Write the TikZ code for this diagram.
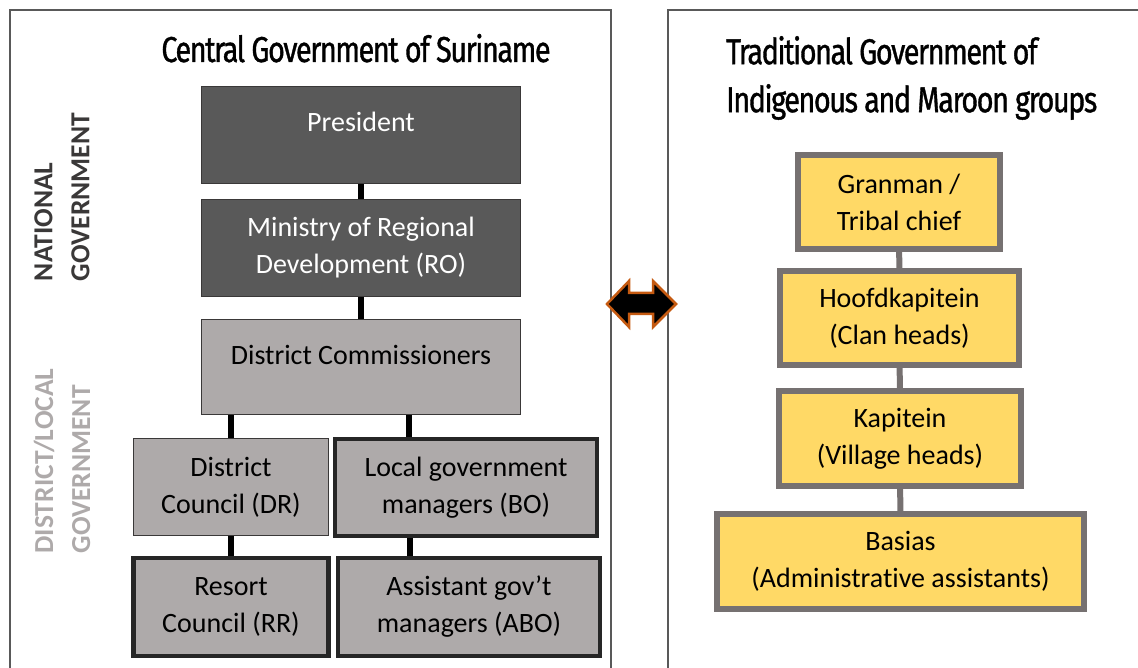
\documentclass[tikz,border=0pt]{standalone}
\usepackage{fontspec}
\setmainfont[Ligatures=NoCommon]{Carlito}
\newfontfamily\headfont[FakeStretch=0.8,LetterSpace=-4,FakeBold=1]{Fira Sans}
\usepackage{tikz}
\usetikzlibrary{arrows,positioning}
\definecolor{natfill}{HTML}{595959}
\definecolor{locfill}{HTML}{AEAAAA}
\definecolor{boxline}{HTML}{3A3838}
\definecolor{heavyline}{HTML}{262626}
\definecolor{tradfill}{HTML}{FFD966}
\definecolor{tradline}{HTML}{767171}
\definecolor{panelline}{HTML}{595959}
\definecolor{linkedge}{HTML}{C55A11}
\tikzset{font=\fontsize{28}{37}\selectfont}
\tikzstyle{natbox}=[draw=boxline,fill=natfill,text=white,line width=1.5pt,inner sep=0pt,align=center]
\tikzstyle{locbox}=[draw=boxline,fill=locfill,line width=1.5pt,inner sep=0pt,align=center]
\tikzstyle{heavybox}=[locbox,draw=heavyline,line width=4.5pt]
\tikzstyle{tradbox}=[draw=tradline,fill=tradfill,line width=6pt,inner sep=0pt,align=center]
\tikzstyle{uptext}=[text height=17pt,text depth=23pt]
\tikzstyle{headtext}=[font=\headfont\fontsize{36}{48}\selectfont,inner sep=0pt]
\tikzstyle{sidetext}=[font=\bfseries\fontsize{27.5}{37}\selectfont,rotate=90,align=left,inner sep=0pt]

\begin{document}
\begin{tikzpicture}[x=1pt,y=-1pt]
\useasboundingbox (0,0) rectangle (1138,668);
% panels
\draw[panelline,line width=2pt] (10,10) rectangle (611,690);
\draw[panelline,line width=2pt] (668,10) rectangle (1150,690);
\node[headtext,anchor=base] (ctitle) at (356,62) {Central Government of Suriname};
\node[headtext,anchor=west,align=left] (ttitle) at (726,78) {Traditional Government of\\Indigenous and Maroon groups};
\node[sidetext,text=boxline] (natl) at (62,197) {NATIONAL\\GOVERNMENT};
\node[sidetext,text=locfill] (distl) at (62,461) {DISTRICT/LOCAL\\GOVERNMENT};
% national and district levels
\node[natbox,uptext,minimum width=319,minimum height=97] (pres) at (361,135) {President};
\node[natbox,minimum width=319,minimum height=97] (min) at (361,248) {Ministry of Regional\\Development (RO)};
\node[locbox,uptext,minimum width=319,minimum height=95] (dc) at (361,367) {District Commissioners};
\node[locbox,minimum width=195,minimum height=97] (dr) at (231,487) {District\\Council (DR)};
\node[heavybox,minimum width=262,minimum height=97] (bo) at (466,487.5) {Local government\\managers (BO)};
\node[heavybox,minimum width=262,minimum height=98] (abo) at (469,607) {Assistant gov’t\\managers (ABO)};
\node[heavybox,minimum width=195,minimum height=98] (rr) at (231,607) {Resort\\Council (RR)};
\path[every edge/.style={draw,line width=5.5pt}]
(pres) edge (min)
(min) edge (dc)
(dr.north |- dc.south) edge (dr.north)
([xshift=48]dc.south) edge ([xshift=-57]bo.north)
(dr) edge (rr)
([xshift=-56]bo.south) edge ([xshift=-59]abo.north);
% traditional authorities
\node[tradbox,minimum width=202,minimum height=94] (gran) at (899,202) {Granman /\\Tribal chief};
\node[tradbox,minimum width=239,minimum height=94] (hoof) at (899.5,318) {Hoofdkapitein\\(Clan heads)};
\node[tradbox,minimum width=242,minimum height=95] (kap) at (900,438.5) {Kapitein\\(Village heads)};
\node[tradbox,minimum width=367,minimum height=95] (bas) at (900.5,561.5) {Basias\\(Administrative assistants)};
\path[every edge/.style={draw=tradline,line width=6pt}]
(gran) edge (hoof)
(hoof) edge (kap)
(kap) edge (bas);
% two-way link between the panels
\filldraw[draw=linkedge,fill=black,line width=2.5pt,line join=miter]
(607,304) -- (629,281) -- (629,293) -- (653,293) -- (653,281) -- (676,304)
-- (653,327) -- (653,314) -- (629,314) -- (629,327) -- cycle;
\end{tikzpicture}
\end{document}
